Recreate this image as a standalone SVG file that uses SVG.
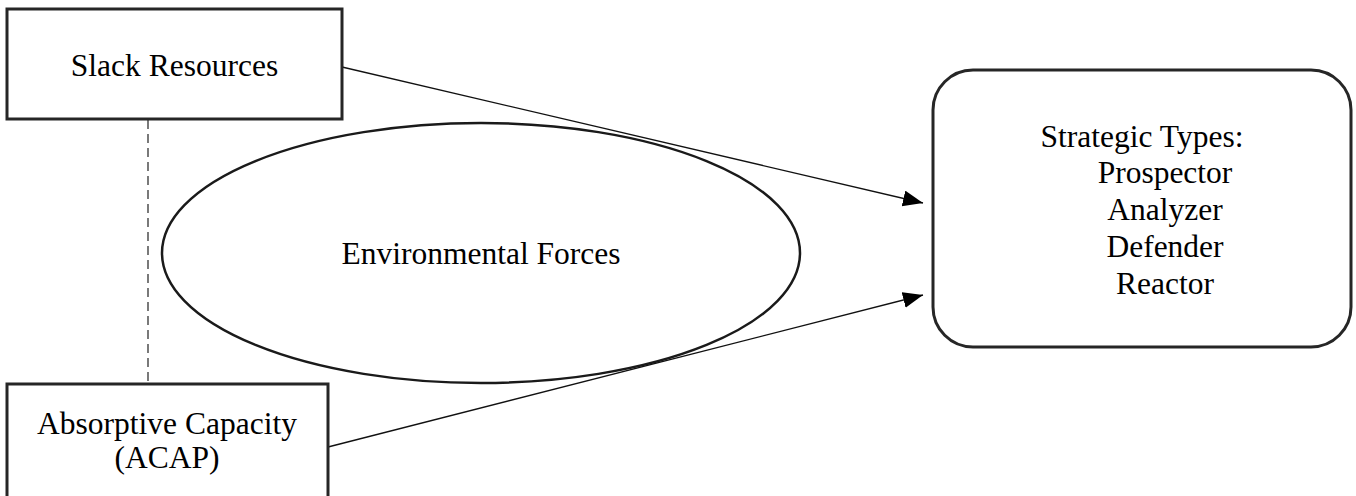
<svg xmlns="http://www.w3.org/2000/svg" width="1356" height="496" viewBox="0 0 1356 496">
<style>
.box{fill:#fff;stroke:#262626;stroke-width:3}
.ell{fill:#fff;stroke:#1a1a1a;stroke-width:2.5}
.t{font-family:"Liberation Serif","Times New Roman",serif;font-size:31.5px;fill:#000;text-anchor:middle}
.c{stroke:#111;stroke-width:1.3;fill:none}
.d{stroke:#333;stroke-width:1.3;stroke-dasharray:9 5;fill:none}
</style>
<defs>
<marker id="ah" markerUnits="userSpaceOnUse" markerWidth="22" markerHeight="18" refX="20" refY="8" orient="auto">
<path d="M0,0 L20,8 L0,16 Z" fill="#000"/>
</marker>
</defs>
<rect width="1356" height="496" fill="#fff"/>
<g id="connectors">
<line class="d" x1="148" y1="120" x2="148" y2="384"/>
<line class="c" x1="342" y1="67" x2="923" y2="203" marker-end="url(#ah)"/>
</g>
<g id="environmental">
<ellipse class="ell" cx="481" cy="253" rx="319" ry="130"/>
<text class="t" x="481" y="264">Environmental Forces</text>
</g>
<g id="connectors2">
<line class="c" x1="328" y1="447" x2="923" y2="295" marker-end="url(#ah)"/>
</g>
<g id="slack">
<rect class="box" x="7" y="9" width="335" height="110"/>
<text class="t" x="174.5" y="76">Slack Resources</text>
</g>
<g id="acap">
<rect class="box" x="7" y="384" width="321" height="120"/>
<text class="t" x="167" y="434">Absorptive Capacity</text>
<text class="t" x="167" y="468">(ACAP)</text>
</g>
<g id="strategic">
<rect class="box" x="933" y="70" width="418" height="277" rx="40" ry="40"/>
<text class="t" x="1142" y="147">Strategic Types:</text>
<text class="t" x="1165" y="183">Prospector</text>
<text class="t" x="1165" y="220">Analyzer</text>
<text class="t" x="1165" y="257">Defender</text>
<text class="t" x="1165" y="294">Reactor</text>
</g>
</svg>
